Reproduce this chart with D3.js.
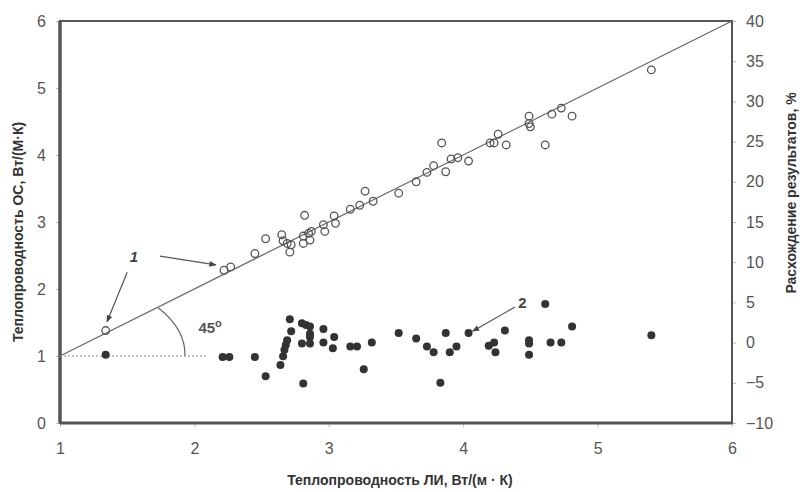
<!DOCTYPE html>
<html>
<head>
<meta charset="utf-8">
<script src="https://cdn.jsdelivr.net/npm/d3@7"></script>
<style>
  body { margin: 0; background: #fff; }
  text { font-family: Arial, "Liberation Sans", sans-serif; }
</style>
</head>
<body>
<div id="chart"></div>
<script>
// curve 1 - open circles, left axis (ОС vs ЛИ)
let openX = [1.34, 2.22, 2.27, 2.45, 2.53, 2.65, 2.66, 2.69, 2.71, 2.72, 2.82, 2.81, 2.81, 2.85, 2.86, 2.87,
  2.96, 2.97, 3.04, 3.05, 3.16, 3.23, 3.27, 3.33, 3.52, 3.65, 3.73, 3.78, 3.84, 3.87, 3.91, 3.96, 4.04,
  4.2, 4.23, 4.26, 4.32, 4.49, 4.49, 4.5, 4.61, 4.66, 4.73, 4.81, 5.4]
let openY = [1.38, 2.28, 2.33, 2.53, 2.75, 2.81, 2.72, 2.68, 2.55, 2.66, 3.1, 2.79, 2.68, 2.83, 2.73, 2.86,
  2.96, 2.86, 3.09, 2.98, 3.19, 3.25, 3.46, 3.31, 3.43, 3.6, 3.74, 3.84, 4.18, 3.75, 3.94, 3.96, 3.91,
  4.18, 4.18, 4.31, 4.15, 4.58, 4.47, 4.42, 4.15, 4.61, 4.7, 4.58, 5.27]

// curve 2 - filled dots, right axis (расхождение, %)
let dotX = [1.34, 2.21, 2.26, 2.45, 2.53, 2.64, 2.66, 2.67, 2.68, 2.69, 2.71, 2.72, 2.8, 2.83, 2.86, 2.86,
  2.86, 2.8, 2.86, 2.81, 2.96, 2.96, 3.04, 3.03, 3.16, 3.21, 3.26, 3.32, 3.52, 3.65, 3.73, 3.78, 3.83,
  3.87, 3.9, 3.95, 4.04, 4.19, 4.23, 4.24, 4.31, 4.49, 4.49, 4.49, 4.61, 4.65, 4.73, 4.81, 5.4]
let dotY = [-1.5, -1.8, -1.8, -1.8, -4.2, -2.8, -1.7, -0.9, -0.3, 0.3, 2.9, 1.4, 2.4, 2.2, 2.0, 1.1,
  0.7, -0.1, -0.1, -5.1, 1.7, 0.0, 0.7, -0.7, -0.5, -0.5, -3.3, 0.0, 1.2, 0.5, -0.5, -1.2, -5.0,
  1.2, -1.2, -0.5, 1.2, -0.4, 0.0, -1.2, 1.5, 0.3, -0.1, -1.5, 4.8, 0.0, 0.0, 2.0, 0.9]

let xTicks = [1, 2, 3, 4, 5, 6]
let yLeftTicks = [0, 1, 2, 3, 4, 5, 6]
let yRightTicks = [-10, -5, 0, 5, 10, 15, 20, 25, 30, 35, 40]

// annotation positions (data units, left axis)
let label1 = [1.55, 2.40]
let arrows1 = [[[1.50, 2.25], [1.35, 1.51]], [[1.744, 2.49], [2.16, 2.36]]]
let label2 = [4.44, 1.72]
let arrow2 = [[4.385, 1.73], [4.07, 1.37]]
let label45 = [2.03, 1.34]

let margin = { top: 21, left: 60, right: 71, bottom: 69 }
let width = 803 - margin.left - margin.right
let height = 492 - margin.top - margin.bottom

let svg = d3.select('#chart')
  .append('svg')
  .attr('width', 803)
  .attr('height', 492)

let defs = svg.append('defs')
defs.append('marker')
  .attr('id', 'arr')
  .attr('viewBox', '0 0 10 10')
  .attr('refX', 9)
  .attr('refY', 5)
  .attr('markerWidth', 7)
  .attr('markerHeight', 6)
  .attr('orient', 'auto')
  .append('path')
  .attr('d', 'M0,1 L10,5 L0,9 Z')
  .attr('fill', '#444')

let g = svg.append('g')
  .attr('transform', 'translate(' + margin.left + ',' + margin.top + ')')

let xPositionScale = d3.scaleLinear().domain([1, 6]).range([0, width])
let yLeftScale = d3.scaleLinear().domain([0, 6]).range([height, 0])
let yRightScale = d3.scaleLinear().domain([-10, 40]).range([height, 0])

// axes
let xAxis = d3.axisBottom(xPositionScale).tickValues(xTicks).tickFormat(d3.format('d')).tickSize(4).tickPadding(16)
g.append('g')
  .attr('class', 'axis x-axis')
  .attr('transform', 'translate(0,' + height + ')')
  .call(xAxis)

let yAxis = d3.axisLeft(yLeftScale).tickValues(yLeftTicks).tickFormat(d3.format('d')).tickSize(4).tickPadding(10)
g.append('g')
  .attr('class', 'axis y-axis')
  .call(yAxis)

let yAxisRight = d3.axisRight(yRightScale).tickValues(yRightTicks).tickFormat(d3.format('d')).tickSize(4).tickPadding(10)
g.append('g')
  .attr('class', 'axis y-axis-right')
  .attr('transform', 'translate(' + width + ',0)')
  .call(yAxisRight)

g.selectAll('.axis .domain').remove()
g.selectAll('.axis line').attr('stroke', '#bbb')
g.selectAll('.axis text')
  .attr('font-size', 16)
  .attr('fill', '#555')

// frame
g.append('rect')
  .attr('width', width)
  .attr('height', height)
  .attr('fill', 'none')
  .attr('stroke', '#555')
  .attr('stroke-width', 2)
g.append('line')
  .attr('x1', 0).attr('x2', 0)
  .attr('y1', 0).attr('y2', height)
  .attr('stroke', '#555')
  .attr('stroke-width', 3.5)
g.append('line')
  .attr('x1', 0).attr('x2', width)
  .attr('y1', height).attr('y2', height)
  .attr('stroke', '#555')
  .attr('stroke-width', 3)

// 45 degree line
g.append('line')
  .attr('x1', xPositionScale(1))
  .attr('y1', yLeftScale(1))
  .attr('x2', xPositionScale(6))
  .attr('y2', yLeftScale(6))
  .attr('stroke', '#666')
  .attr('stroke-width', 1.2)

// dotted reference line at y = 1
g.append('line')
  .attr('x1', xPositionScale(1))
  .attr('y1', yLeftScale(1))
  .attr('x2', xPositionScale(2.1))
  .attr('y2', yLeftScale(1))
  .attr('stroke', '#888')
  .attr('stroke-width', 1)
  .attr('stroke-dasharray', '2,2')

// angle arc
let arcStart = [xPositionScale(1.93), yLeftScale(1)]
let arcEnd = [xPositionScale(1.73), yLeftScale(1.72)]
g.append('path')
  .attr('d', 'M' + arcStart[0] + ',' + arcStart[1] + ' A125,76 0 0 0 ' + arcEnd[0] + ',' + arcEnd[1])
  .attr('fill', 'none')
  .attr('stroke', '#666')
  .attr('stroke-width', 1.2)

// open circles
g.selectAll('.open')
  .data(openX)
  .enter()
  .append('circle')
  .attr('class', 'open')
  .attr('cx', (d, i) => xPositionScale(d))
  .attr('cy', (d, i) => yLeftScale(openY[i]))
  .attr('r', 3.8)
  .attr('fill', 'none')
  .attr('stroke', '#555')
  .attr('stroke-width', 1.3)

// filled dots
g.selectAll('.dot')
  .data(dotX)
  .enter()
  .append('circle')
  .attr('class', 'dot')
  .attr('cx', (d, i) => xPositionScale(d))
  .attr('cy', (d, i) => yRightScale(dotY[i]))
  .attr('r', 4)
  .attr('fill', '#333')

// annotations
arrows1.concat([arrow2]).forEach(a => {
  g.append('line')
    .attr('x1', xPositionScale(a[0][0]))
    .attr('y1', yLeftScale(a[0][1]))
    .attr('x2', xPositionScale(a[1][0]))
    .attr('y2', yLeftScale(a[1][1]))
    .attr('stroke', '#555')
    .attr('stroke-width', 1.2)
    .attr('marker-end', 'url(#arr)')
})

g.append('text')
  .text('1')
  .attr('x', xPositionScale(label1[0]))
  .attr('y', yLeftScale(label1[1]))
  .attr('text-anchor', 'middle')
  .attr('font-size', 15)
  .attr('font-weight', 'bold')
  .attr('font-style', 'italic')
  .attr('fill', '#444')

g.append('text')
  .text('2')
  .attr('x', xPositionScale(label2[0]))
  .attr('y', yLeftScale(label2[1]))
  .attr('text-anchor', 'middle')
  .attr('font-size', 15)
  .attr('font-weight', 'bold')
  .attr('fill', '#444')

let t45 = g.append('text')
  .attr('x', xPositionScale(label45[0]))
  .attr('y', yLeftScale(label45[1]))
  .attr('font-size', 15)
  .attr('font-weight', 'bold')
  .attr('fill', '#555')
t45.append('tspan').text('45')
t45.append('tspan').text('o').attr('font-size', 11).attr('dy', -6)

// axis titles
svg.append('text')
  .text('Теплопроводность ЛИ, Вт/(м · К)')
  .attr('x', 400)
  .attr('y', 485)
  .attr('text-anchor', 'middle')
  .attr('font-size', 14)
  .attr('font-weight', 'bold')
  .attr('fill', '#333')

svg.append('text')
  .text('Теплопроводность ОС, Вт/(М·К)')
  .attr('transform', 'translate(23,232) rotate(-90)')
  .attr('text-anchor', 'middle')
  .attr('font-size', 14)
  .attr('font-weight', 'bold')
  .attr('fill', '#333')

svg.append('text')
  .text('Расхождение результатов, %')
  .attr('transform', 'translate(796,193) rotate(-90)')
  .attr('text-anchor', 'middle')
  .attr('font-size', 14)
  .attr('font-weight', 'bold')
  .attr('fill', '#333')
</script>
</body>
</html>
